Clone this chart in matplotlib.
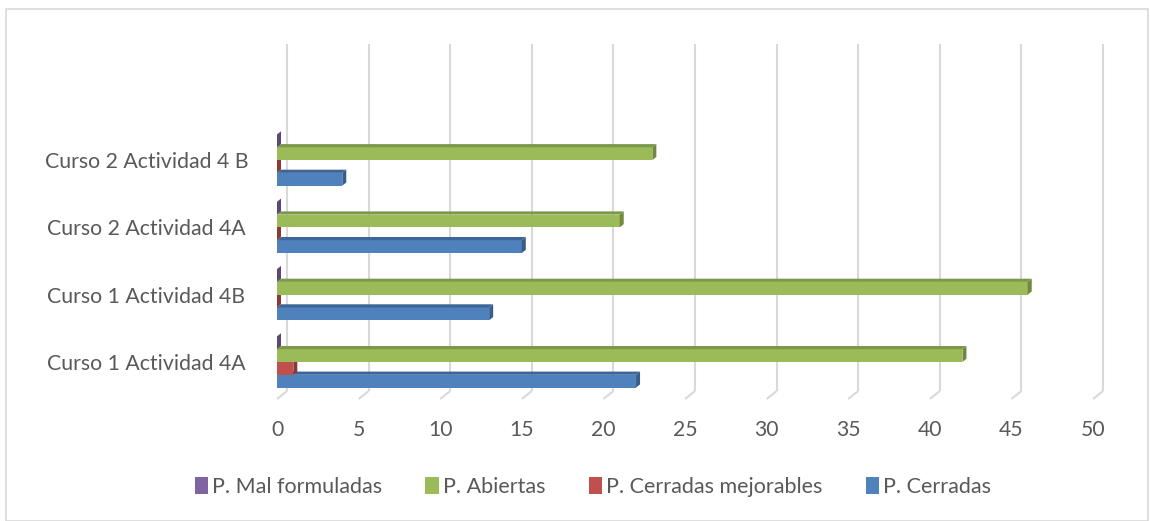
import matplotlib
matplotlib.use("Agg")
import matplotlib.pyplot as plt
from matplotlib.patches import Patch, Rectangle
import numpy as np

plt.rcParams['font.family'] = ['Lato', 'DejaVu Sans']

categories = ["Curso 1 Actividad 4A", "Curso 1 Actividad 4B",
              "Curso 2 Actividad 4A", "Curso 2 Actividad 4 B"]
p_cerradas = [22, 13, 15, 4]
p_cerradas_mejorables = [1, 0, 0, 0]
p_abiertas = [42, 46, 21, 23]
p_mal_formuladas = [0, 0, 0, 0]
series_names = ["P. Cerradas", "P. Cerradas mejorables", "P. Abiertas", "P. Mal formuladas"]
xticks = list(range(0, 51, 5))

series_vals = [p_cerradas, p_cerradas_mejorables, p_abiertas, p_mal_formuladas]
front_cols = ["#4F81BD", "#C0504D", "#9BBB59", "#8064A2"]
top_cols = ["#3E6597", "#9A3E3C", "#7C9849", "#654F82"]
side_cols = ["#385D8A", "#8C3836", "#71893F", "#5C4776"]

W, H = 1151, 521
fig = plt.figure(figsize=(W / 100, H / 100), dpi=100)
x0px, x1px = 277, 1093
ybot, ytop = 399, 44
ax = fig.add_axes([x0px / W, 1 - ybot / H, (x1px - x0px) / W, (ybot - ytop) / H])

ylo, yhi = -0.55, 4.725
ax.set_xlim(0, 50)
ax.set_ylim(ylo, yhi)

ppu_x = (x1px - x0px) / 50.0
ppu_y = (ybot - ytop) / (yhi - ylo)

# back wall gridlines with perspective
gx = 10.0 / ppu_x
gy = 8.0 / ppu_y
for v in xticks:
    ax.plot([v, v + gx], [ylo, ylo + gy], color="#D9D9D9", lw=1.5, clip_on=False, zorder=0.5,
            solid_capstyle="butt")
    ax.plot([v + gx, v + gx], [ylo + gy, yhi], color="#D9D9D9", lw=1.5, clip_on=False, zorder=0.5,
            solid_capstyle="butt")

# 3D-looking bars
s = 12.8 / ppu_y
dx = 4.0 / ppu_x
dy = 3.2 / ppu_y
offsets = [-1.5 * s, -0.5 * s, 0.5 * s, 1.5 * s]
y_pos = np.arange(len(categories))
z = 2
for j, vals in enumerate(series_vals):
    for i, v in enumerate(vals):
        yc = y_pos[i] + offsets[j]
        y0, y1 = yc - s / 2, yc + s / 2
        ax.barh(yc, v, height=s, left=0, color=front_cols[j], linewidth=0, zorder=z)
        ax.fill([0, v, v + dx, dx], [y1, y1, y1 + dy, y1 + dy], color=top_cols[j], lw=0, zorder=z)
        ax.fill([v, v + dx, v + dx, v], [y0, y0 + dy, y1 + dy, y1], color=side_cols[j], lw=0, zorder=z)
    z += 1

for sp in ax.spines.values():
    sp.set_visible(False)
ax.set_xticks(xticks)
ax.set_xticklabels([str(t) for t in xticks], fontsize=15.2, color="#595959")
ax.tick_params(axis="x", length=0, pad=15)
ax.set_yticks(y_pos)
ax.set_yticklabels(categories, fontsize=15.3, color="#595959")
ax.tick_params(axis="y", length=0, pad=94)
for lab in ax.get_yticklabels():
    lab.set_horizontalalignment("center")

# legend
order = [3, 2, 1, 0]
handles = [Patch(facecolor=front_cols[k], edgecolor="none") for k in order]
labels = [series_names[k] for k in order]
fig.legend(handles, labels, loc="center", bbox_to_anchor=(593 / W, 1 - 487 / H), ncol=4,
           frameon=False, fontsize=15.5, handlelength=0.62, handleheight=0.85, handletextpad=0.2,
           columnspacing=2.0, labelcolor="#595959")

# chart border
fig.patches.append(Rectangle((6 / W, 0.5 / H), (1148 - 6) / W, (520 - 8) / H,
                             transform=fig.transFigure, fill=False, ec="#D9D9D9", lw=1.2))

fig.savefig("out.png", dpi=100)
